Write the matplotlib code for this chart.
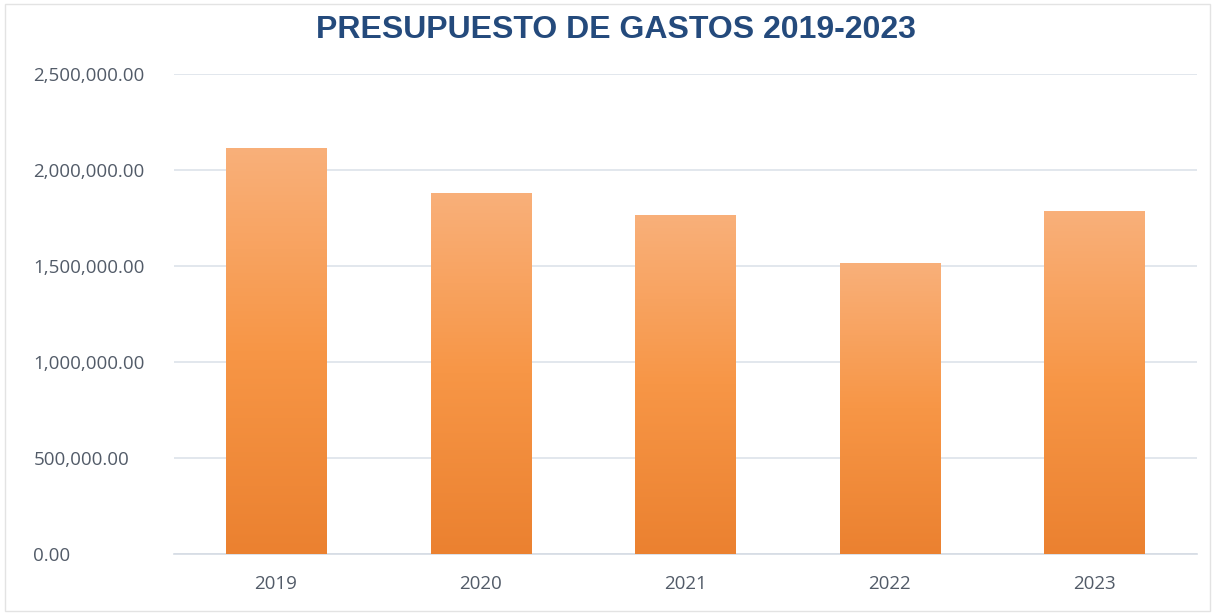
import numpy as np
import matplotlib.pyplot as plt
from matplotlib.colors import LinearSegmentedColormap
from matplotlib.ticker import FuncFormatter

# data
years = ['2019', '2020', '2021', '2022', '2023']
gastos = [2115000, 1880000, 1765000, 1515000, 1785000]
y_ticks = [0, 500000, 1000000, 1500000, 2000000, 2500000]

title = 'PRESUPUESTO DE GASTOS 2019-2023'

fig = plt.figure(figsize=(12.15, 6.15), dpi=100)
ax = fig.add_axes([0.143, 0.099, 0.842, 0.781])

x = np.arange(len(years))
bars = ax.bar(x, gastos, width=0.49, color='none', zorder=3)

# vertical gradient inside each bar, light at the top, darker at the bottom
cmap = LinearSegmentedColormap.from_list('naranja', ['#EB8130', '#F79646', '#F9B07A'])
grad = np.linspace(0, 1, 256).reshape(-1, 1)
for b in bars:
    x0, w, h = b.get_x(), b.get_width(), b.get_height()
    im = ax.imshow(grad, cmap=cmap, aspect='auto', origin='lower',
                   extent=[x0, x0 + w, 0, h], zorder=3)
    im.set_clip_path(b)

ax.set_xlim(-0.5, len(years) - 0.5)
ax.set_ylim(0, 2500000)
ax.set_yticks(y_ticks)
ax.yaxis.set_major_formatter(FuncFormatter(lambda v, p: f'{v:,.2f}'))
ax.set_xticks(x)
ax.set_xticklabels(years)

ax.grid(axis='y', color='#DDE3EA', linewidth=1.2, zorder=0)
for s in ['top', 'right', 'left']:
    ax.spines[s].set_visible(False)
ax.spines['bottom'].set_color('#D5DCE4')
ax.spines['bottom'].set_linewidth(1.2)
ax.tick_params(axis='both', length=0, labelsize=13.5, labelcolor='#525B68')
# y labels are left aligned in the reference, starting near the image edge
ax.tick_params(axis='y', pad=101)
ax.tick_params(axis='x', pad=15)
for lbl in ax.get_yticklabels():
    lbl.set_horizontalalignment('left')
for lbl in ax.get_xticklabels() + ax.get_yticklabels():
    lbl.set_family('Open Sans')

fig.text(0.507, 0.951, title, ha='center', va='center', fontsize=23,
         fontweight='bold', color='#244A7C', family='Liberation Sans')

# thin frame around the chart area
fig.patches.append(plt.Rectangle((0.004, 0.006), 0.992, 0.988, transform=fig.transFigure,
                                 fill=False, edgecolor='#E3E3E3', linewidth=1))

fig.savefig('out.png', dpi=100)
